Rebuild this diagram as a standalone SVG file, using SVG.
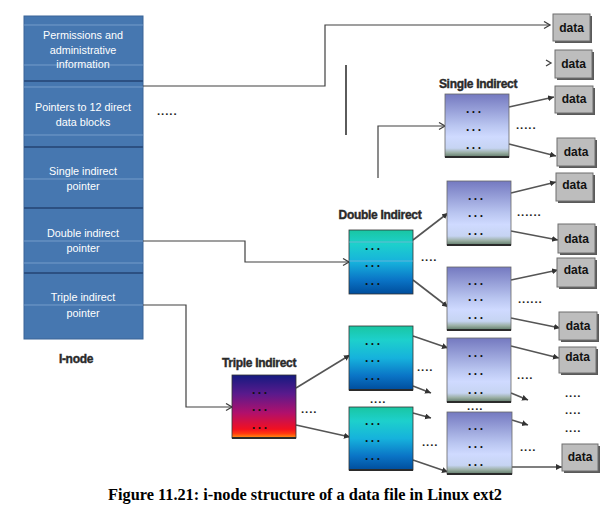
<svg xmlns="http://www.w3.org/2000/svg" width="611" height="521" viewBox="0 0 611 521">
<style>
.lbl{font-family:"Liberation Sans",Arial,sans-serif;font-size:10.8px;fill:#fff;text-anchor:middle}
.hd{font-family:"Liberation Sans",Arial,sans-serif;font-size:12px;font-weight:bold;fill:#2a2a2a;stroke:#2a2a2a;stroke-width:0.4;text-anchor:middle;letter-spacing:-0.3px}
.dt{font-family:"Liberation Sans",Arial,sans-serif;font-size:12px;font-weight:bold;fill:#111;text-anchor:middle}
.dots{font-family:"Liberation Sans",Arial,sans-serif;font-size:12px;font-weight:bold;fill:#111;letter-spacing:2.5px}
.ell{font-family:"Liberation Sans",Arial,sans-serif;font-size:11.5px;font-weight:bold;fill:#222;letter-spacing:0.9px}
.dbox{fill:#bdbdbd;stroke:#6f6f6f;stroke-width:1}
.dsh{fill:#5a5a5a}
.c{fill:none;stroke:#404040;stroke-width:1.2}
.a{fill:none;stroke:#555;stroke-width:1.6}
.sb{fill:url(#gS);stroke:#666;stroke-width:0.8}
.db{fill:url(#gD);stroke:#333;stroke-width:0.8}
.tb{fill:url(#gT);stroke:#333;stroke-width:0.8}
.bl{stroke:#2b2b2b;stroke-width:2}
.sep{stroke:#2c5082;stroke-width:2}
.lt{stroke:#8fb2dc;stroke-width:0.8;opacity:0.8}
</style>
<defs>
<linearGradient id="gS" x1="0" y1="0" x2="0" y2="1">
<stop offset="0" stop-color="#7479c0"/><stop offset="0.5" stop-color="#b9c5f0"/><stop offset="0.68" stop-color="#cfdaff"/><stop offset="0.86" stop-color="#c6d4f2"/><stop offset="0.93" stop-color="#9cb0a6"/><stop offset="1" stop-color="#5f7a68"/>
</linearGradient>
<linearGradient id="gD" x1="0" y1="0" x2="0" y2="1">
<stop offset="0" stop-color="#19c6a2"/><stop offset="0.22" stop-color="#1dd0cc"/><stop offset="0.5" stop-color="#16b2dc"/><stop offset="0.78" stop-color="#0a74c6"/><stop offset="1" stop-color="#004d9c"/>
</linearGradient>
<linearGradient id="gT" x1="0" y1="0" x2="0" y2="1">
<stop offset="0" stop-color="#141a80"/><stop offset="0.3" stop-color="#5a1a8c"/><stop offset="0.6" stop-color="#b0106c"/><stop offset="0.86" stop-color="#f21020"/><stop offset="0.93" stop-color="#ff3a10"/><stop offset="1" stop-color="#ff9a10"/>
</linearGradient>
<marker id="mo" markerWidth="9" markerHeight="9" refX="7" refY="4" orient="auto" markerUnits="userSpaceOnUse">
<path d="M1,0.5 L7,4 L1,7.5" fill="none" stroke="#404040" stroke-width="1.3"/>
</marker>
<marker id="mf" markerWidth="8" markerHeight="8" refX="6" refY="3" orient="auto" markerUnits="userSpaceOnUse">
<path d="M0,0 L6,3 L0,6 z" fill="#333"/>
</marker>
</defs>
<rect width="611" height="521" fill="#fff"/>

<g id="inode">
<rect x="24" y="16" width="119" height="323" fill="#4677b0" stroke="#3a6597" stroke-width="1"/>
<line class="lt" x1="24" y1="25" x2="143" y2="25"/>
<line class="lt" x1="24" y1="65" x2="143" y2="65"/>
<line class="sep" x1="24" y1="81" x2="143" y2="81"/>
<line class="lt" x1="24" y1="87" x2="143" y2="87"/>
<line class="lt" x1="24" y1="135" x2="143" y2="135"/>
<line class="sep" x1="24" y1="147" x2="143" y2="147"/>
<line class="lt" x1="24" y1="179" x2="143" y2="179"/>
<line class="sep" x1="24" y1="208" x2="143" y2="208"/>
<line class="lt" x1="24" y1="241" x2="143" y2="241"/>
<line class="lt" x1="24" y1="263" x2="143" y2="263"/>
<line class="sep" x1="24" y1="273" x2="143" y2="273"/>
<line class="lt" x1="24" y1="305" x2="143" y2="305"/>
<text class="lbl" x="83" y="39">Permissions and</text>
<text class="lbl" x="83" y="54">administrative</text>
<text class="lbl" x="83" y="68">information</text>
<text class="lbl" x="83" y="111">Pointers to 12 direct</text>
<text class="lbl" x="83" y="126">data blocks</text>
<text class="lbl" x="83" y="175">Single indirect</text>
<text class="lbl" x="83" y="190">pointer</text>
<text class="lbl" x="83" y="237">Double indirect</text>
<text class="lbl" x="83" y="252">pointer</text>
<text class="lbl" x="83" y="301">Triple indirect</text>
<text class="lbl" x="83" y="317">pointer</text>
<text class="hd" x="76" y="363">I-node</text>
</g>

<g id="connectors">
<polyline class="c" points="143,86 325,86 325,25 550,25" marker-end="url(#mo)"/>
<path d="M546,60 L551,63 L546,66" fill="none" stroke="#404040" stroke-width="1.3"/>
<line x1="346" y1="65" x2="346" y2="135" stroke="#333" stroke-width="1.6"/>
<polyline class="c" points="378,178 378,126 445,126" marker-end="url(#mo)"/>
<polyline class="c" points="143,241 245,241 245,262 349,262" marker-end="url(#mo)"/>
<polyline class="c" points="143,305 186,305 186,407 232,407" marker-end="url(#mo)"/>
<line class="a" x1="509" y1="107" x2="554" y2="97" marker-end="url(#mf)"/>
<line class="a" x1="509" y1="144" x2="556" y2="156" marker-end="url(#mf)"/>
<line class="a" x1="413" y1="240" x2="448" y2="213" marker-end="url(#mf)"/>
<line class="a" x1="413" y1="280" x2="448" y2="307" marker-end="url(#mf)"/>
<line class="a" x1="511" y1="193" x2="556" y2="182" marker-end="url(#mf)"/>
<line class="a" x1="511" y1="231" x2="558" y2="240" marker-end="url(#mf)"/>
<line class="a" x1="511" y1="280" x2="558" y2="270" marker-end="url(#mf)"/>
<line class="a" x1="511" y1="318" x2="560" y2="328" marker-end="url(#mf)"/>
<line class="a" x1="296" y1="388" x2="350" y2="355" marker-end="url(#mf)"/>
<line class="a" x1="296" y1="425" x2="350" y2="437" marker-end="url(#mf)"/>
<line class="a" x1="413" y1="336" x2="448" y2="348" marker-end="url(#mf)"/>
<line class="a" x1="413" y1="386" x2="431" y2="393" marker-end="url(#mf)"/>
<line class="a" x1="413" y1="413" x2="431" y2="418" marker-end="url(#mf)"/>
<line class="a" x1="413" y1="460" x2="448" y2="472" marker-end="url(#mf)"/>
<line class="a" x1="511" y1="346" x2="559" y2="358" marker-end="url(#mf)"/>
<line class="a" x1="511" y1="393" x2="528" y2="400" marker-end="url(#mf)"/>
<line class="a" x1="512" y1="420" x2="528" y2="425" marker-end="url(#mf)"/>
<line class="a" x1="512" y1="467" x2="562" y2="467" marker-end="url(#mf)"/>
</g>

<g id="single-indirect">
<text class="hd" x="478" y="88">Single Indirect</text>
<rect class="sb" x="445" y="94" width="64" height="63"/>
<line class="bl" x1="445" y1="157" x2="509" y2="157"/>
<text class="dots" x="466" y="113">...</text>
<text class="dots" x="466" y="131">...</text>
<text class="dots" x="466" y="149">...</text>
</g>

<g id="double-indirect">
<text class="hd" x="380" y="219">Double Indirect</text>
<rect class="db" x="349" y="230" width="64" height="64"/>
<line class="lt" x1="349" y1="242" x2="413" y2="242"/>
<line class="lt" x1="349" y1="261" x2="413" y2="261"/>
<text class="dots" x="365" y="250">...</text>
<text class="dots" x="365" y="267">...</text>
<text class="dots" x="365" y="285">...</text>
</g>

<g id="dbl-single-a">
<rect class="sb" x="447" y="181" width="64" height="64"/>
<line class="bl" x1="447" y1="245" x2="511" y2="245"/>
<text class="dots" x="468" y="200">...</text>
<text class="dots" x="468" y="217">...</text>
<text class="dots" x="468" y="235">...</text>
</g>

<g id="dbl-single-b">
<rect class="sb" x="447" y="267" width="64" height="63"/>
<line class="bl" x1="447" y1="330" x2="511" y2="330"/>
<text class="dots" x="468" y="285">...</text>
<text class="dots" x="468" y="301">...</text>
<text class="dots" x="468" y="319">...</text>
</g>

<g id="triple-indirect">
<text class="hd" x="259" y="367">Triple Indirect</text>
<rect class="tb" x="232" y="375" width="64" height="63"/>
<line class="bl" x1="232" y1="438" x2="296" y2="438"/>
<text class="dots" x="252" y="394">...</text>
<text class="dots" x="252" y="411">...</text>
<text class="dots" x="252" y="429">...</text>
</g>

<g id="tri-double-c">
<rect class="db" x="349" y="326" width="64" height="64"/>
<line class="bl" x1="349" y1="390" x2="413" y2="390"/>
<text class="dots" x="365" y="345">...</text>
<text class="dots" x="365" y="362">...</text>
<text class="dots" x="365" y="380">...</text>
</g>

<g id="tri-double-d">
<rect class="db" x="349" y="407" width="64" height="63"/>
<line class="bl" x1="349" y1="470" x2="413" y2="470"/>
<text class="dots" x="365" y="425">...</text>
<text class="dots" x="365" y="442">...</text>
<text class="dots" x="365" y="460">...</text>
</g>

<g id="tri-single-e">
<rect class="sb" x="447" y="338" width="64" height="64"/>
<line class="bl" x1="447" y1="402" x2="511" y2="402"/>
<text class="dots" x="468" y="357">...</text>
<text class="dots" x="468" y="375">...</text>
<text class="dots" x="468" y="394">...</text>
</g>

<g id="tri-single-f">
<rect class="sb" x="447" y="412" width="65" height="62"/>
<line class="bl" x1="447" y1="474" x2="512" y2="474"/>
<text class="dots" x="468" y="430">...</text>
<text class="dots" x="468" y="448">...</text>
<text class="dots" x="468" y="466">...</text>
</g>

<g id="data1"><rect class="dsh" x="555" y="16" width="37" height="27"/><rect class="dbox" x="553" y="14" width="37" height="27"/><text class="dt" x="571.5" y="32">data</text></g>
<g id="data2"><rect class="dsh" x="557" y="52" width="37" height="28"/><rect class="dbox" x="555" y="50" width="37" height="28"/><text class="dt" x="573.5" y="68">data</text></g>
<g id="data3"><rect class="dsh" x="557" y="88" width="38" height="27"/><rect class="dbox" x="555" y="86" width="38" height="27"/><text class="dt" x="574" y="103">data</text></g>
<g id="data4"><rect class="dsh" x="559" y="140" width="38" height="28"/><rect class="dbox" x="557" y="138" width="38" height="28"/><text class="dt" x="576" y="156">data</text></g>
<g id="data5"><rect class="dsh" x="558" y="175" width="37" height="28"/><rect class="dbox" x="556" y="173" width="37" height="28"/><text class="dt" x="574.5" y="189">data</text></g>
<g id="data6"><rect class="dsh" x="560" y="226" width="37" height="29"/><rect class="dbox" x="558" y="224" width="37" height="29"/><text class="dt" x="576.5" y="243">data</text></g>
<g id="data7"><rect class="dsh" x="559" y="260" width="38" height="29"/><rect class="dbox" x="557" y="258" width="38" height="29"/><text class="dt" x="576" y="274">data</text></g>
<g id="data8"><rect class="dsh" x="561" y="314" width="38" height="28"/><rect class="dbox" x="559" y="312" width="38" height="28"/><text class="dt" x="578" y="330">data</text></g>
<g id="data9"><rect class="dsh" x="561" y="349" width="37" height="26"/><rect class="dbox" x="559" y="347" width="37" height="26"/><text class="dt" x="577.5" y="361">data</text></g>
<g id="data10"><rect class="dsh" x="564" y="446" width="36" height="27"/><rect class="dbox" x="562" y="444" width="36" height="27"/><text class="dt" x="580" y="461">data</text></g>

<g id="ellipses">
<text class="ell" x="157" y="115">.....</text>
<text class="ell" x="516" y="129">.....</text>
<text class="ell" x="517" y="216">......</text>
<text class="ell" x="421" y="261">....</text>
<text class="ell" x="518" y="303">......</text>
<text class="ell" x="301" y="413">....</text>
<text class="ell" x="370" y="403">....</text>
<text class="ell" x="417" y="371">....</text>
<text class="ell" x="422" y="446">....</text>
<text class="ell" x="467" y="410">....</text>
<text class="ell" x="517" y="379">....</text>
<text class="ell" x="520" y="451">....</text>
<text class="ell" x="565" y="397">....</text>
<text class="ell" x="565" y="414">....</text>
<text class="ell" x="565" y="432">....</text>
</g>

<text x="305" y="500" font-family="'Liberation Serif','Times New Roman',serif" font-size="16" font-weight="bold" text-anchor="middle" fill="#000" textLength="394" lengthAdjust="spacingAndGlyphs">Figure 11.21: i-node structure of a data file in Linux ext2</text>
</svg>
